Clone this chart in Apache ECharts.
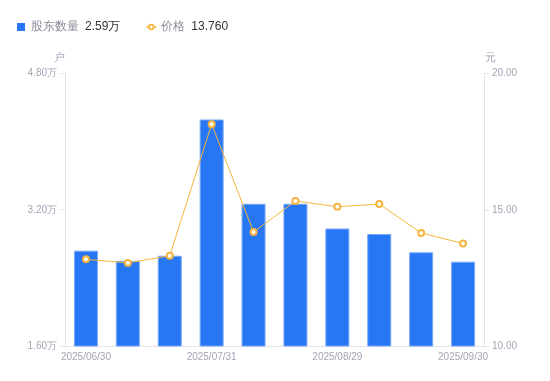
<!DOCTYPE html>
<html><head><meta charset="utf-8">
<script src="https://cdn.jsdelivr.net/npm/echarts@6/dist/echarts.min.js"></script>
<style>html,body{margin:0;padding:0;background:#fff}#c{width:550px;height:381px}</style>
</head><body><div id="c"></div>
<script>
var categories = ['2025/06/30','2025/07/10','2025/07/20','2025/07/31','2025/08/10','2025/08/20','2025/08/29','2025/09/10','2025/09/20','2025/09/30'];
var holders = [2.72, 2.60, 2.66, 4.26, 3.27, 3.27, 2.98, 2.915, 2.70, 2.59];
var prices = [13.18, 13.05, 13.31, 18.14, 14.18, 15.32, 15.11, 15.21, 14.15, 13.76];
var leftTicks = [1.6, 4.8, 1.6];
var rightTicks = [10, 20, 5];
var legendValues = {'股东数量': '2.59万', '价格': '13.760'};

var grayText = '#a3a3b5';
var axisGray = '#e4e4e8';
var ringIcon = 'path://M0,3.3 L2.2,3.3 L2.2,4.7 L0,4.7 Z M7.8,3.3 L10,3.3 L10,4.7 L7.8,4.7 Z M5,0.8 A3.2,3.2 0 1,1 4.99,0.8 Z M5,2.6 A1.4,1.4 0 1,0 5.01,2.6 Z';
var squareIcon = 'path://M1.5,0.5 L8.5,0.5 L8.5,7.5 L1.5,7.5 Z';
var chart = echarts.init(document.getElementById('c'));
chart.setOption({
  animation: false,
  legend: {
    left: 12, top: 16, itemWidth: 10, itemHeight: 8, itemGap: 26,
    data: [
      {name: '股东数量', icon: squareIcon, itemStyle: {color: '#2777f5', borderWidth: 0}},
      {name: '价格', icon: ringIcon, itemStyle: {color: '#f7b43f', borderWidth: 0}}
    ],
    formatter: function (n) { return '{n|' + n + '}{v|' + legendValues[n] + '}'; },
    textStyle: {
      rich: {
        n: {fontSize: 12, color: '#8b8b9a', padding: [0, 6, 0, 0]},
        v: {fontSize: 12, color: '#333333'}
      }
    }
  },
  grid: {left: 65, right: 66, top: 73.5, bottom: 35},
  xAxis: {
    type: 'category', data: categories, boundaryGap: true,
    axisLine: {lineStyle: {color: axisGray}},
    axisTick: {show: false},
    axisLabel: {interval: 2, color: grayText, fontSize: 10, margin: 6}
  },
  yAxis: [{
    type: 'value', min: leftTicks[0], max: leftTicks[1], interval: leftTicks[2],
    name: '户', nameGap: 10,
    nameTextStyle: {color: grayText, fontSize: 11, padding: [0, 12, 0, 0]},
    axisLine: {show: true, lineStyle: {color: axisGray}},
    axisTick: {show: true, length: 5, lineStyle: {color: axisGray}},
    splitLine: {show: false},
    axisLabel: {color: grayText, fontSize: 10, margin: 8,
      formatter: function (v) { return v.toFixed(2) + '万'; }}
  }, {
    type: 'value', min: rightTicks[0], max: rightTicks[1], interval: rightTicks[2],
    name: '元', nameGap: 10,
    nameTextStyle: {color: grayText, fontSize: 11, padding: [0, 0, 0, 12]},
    axisLine: {show: true, lineStyle: {color: axisGray}},
    axisTick: {show: true, length: 5, lineStyle: {color: axisGray}},
    splitLine: {show: false},
    axisLabel: {color: grayText, fontSize: 10, margin: 8,
      formatter: function (v) { return v.toFixed(2); }}
  }],
  series: [{
    name: '股东数量', type: 'bar', data: holders, yAxisIndex: 0,
    barWidth: 24,
    itemStyle: {color: '#2777f5', borderColor: '#79a8f6', borderWidth: 1}
  }, {
    name: '价格', type: 'line', data: prices, yAxisIndex: 1,
    symbol: 'emptyCircle', symbolSize: 6,
    lineStyle: {color: '#f7b43f', width: 1},
    itemStyle: {color: '#f7b43f', borderWidth: 2}
  }]
});
</script></body></html>
